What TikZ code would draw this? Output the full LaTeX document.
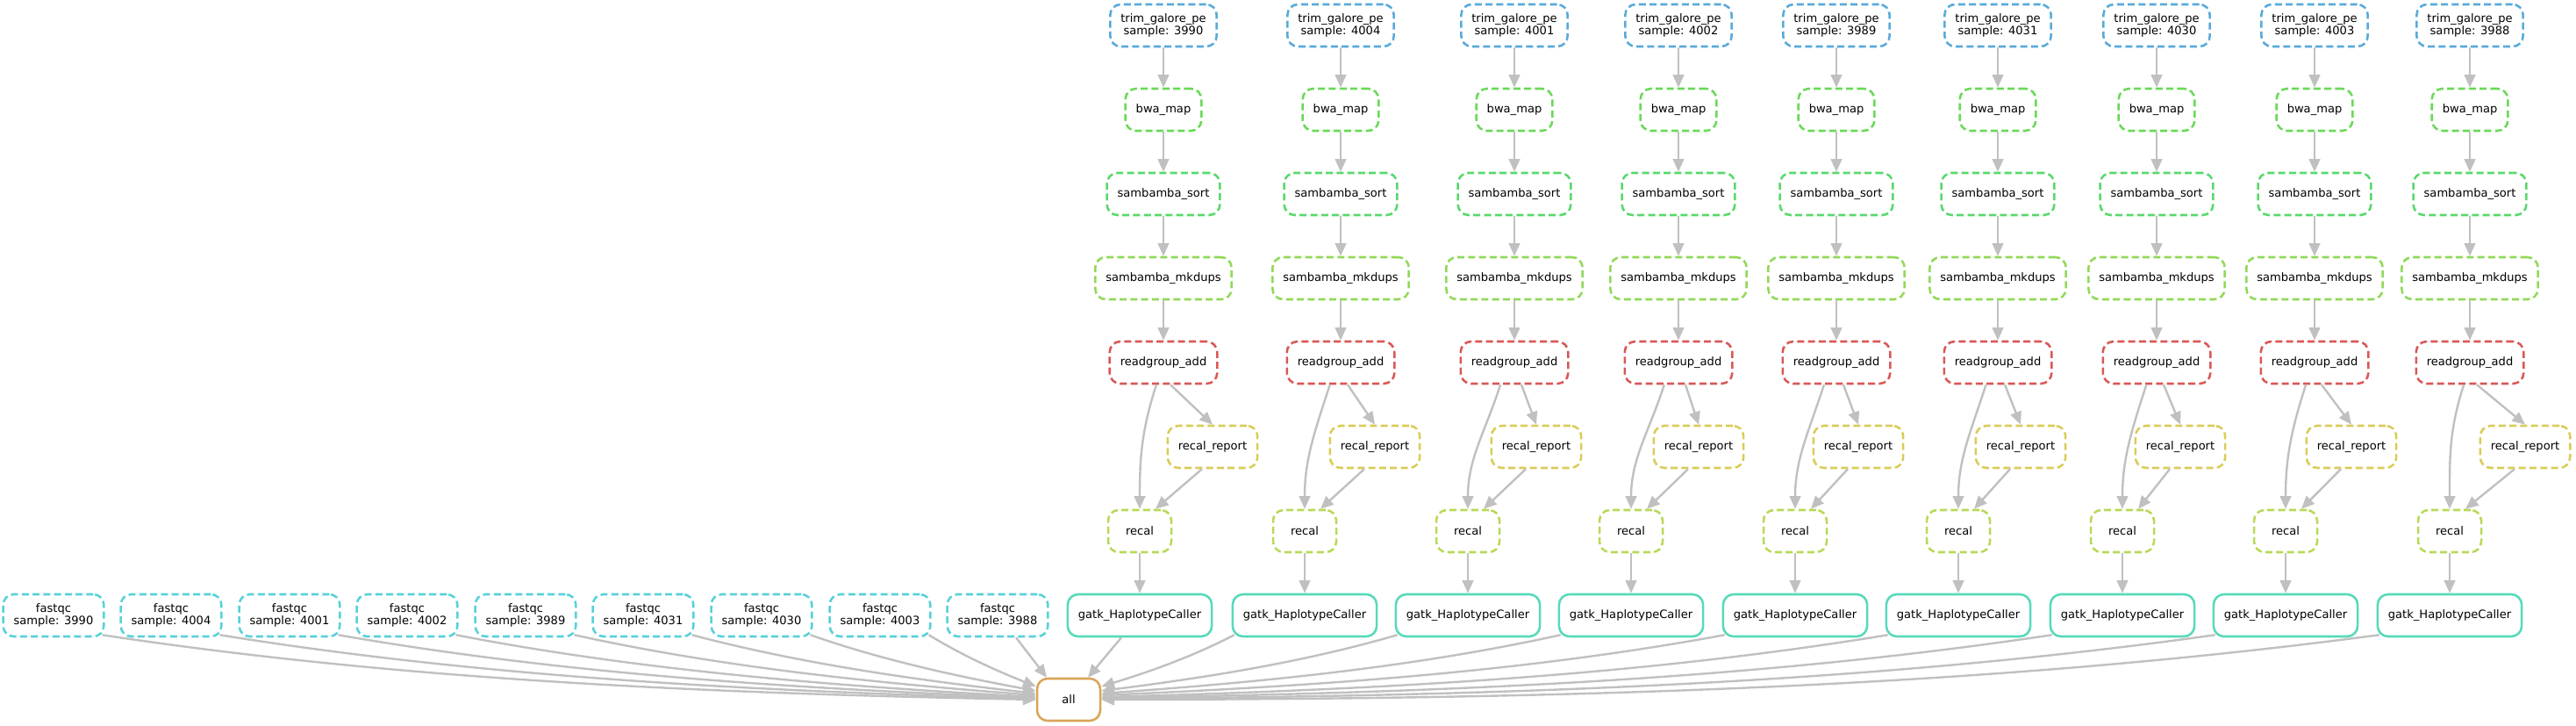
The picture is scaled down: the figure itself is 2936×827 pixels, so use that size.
\documentclass[tikz,border=0pt]{standalone}
\usepackage{fontspec}
\setmainfont{DejaVu Sans}
\usetikzlibrary{arrows.meta,calc}

% rule colours (hue steps, sat 0.6, value 0.85)
\definecolor{rgcol}{RGB}{217,87,87}
\definecolor{allcol}{RGB}{217,165,87}
\definecolor{repcol}{RGB}{217,204,87}
\definecolor{recalcol}{RGB}{183,217,87}
\definecolor{dupcol}{RGB}{144,217,87}
\definecolor{bwacol}{RGB}{105,217,87}
\definecolor{sortcol}{RGB}{87,217,108}
\definecolor{gatkcol}{RGB}{87,217,186}
\definecolor{qccol}{RGB}{87,209,217}
\definecolor{trimcol}{RGB}{87,170,217}
\definecolor{flowcol}{RGB}{192,192,192}

\tikzset{
	job/.style={rounded corners=9pt, line width=1.9pt, minimum height=36pt, minimum width=54pt,
		inner xsep=9pt, inner ysep=2pt, align=center, font=\fontsize{9.8}{10.8}\selectfont},
	pending/.style={job, dash pattern=on 6pt off 3.2pt},
	flow/.style={draw=flowcol, line width=1.8pt, -{Triangle[length=11pt,width=9.5pt]}},
}

\begin{document}
\begin{tikzpicture}[x=0.75pt,y=-0.75pt]
		\useasboundingbox (0,0) rectangle (2936,827);
		\node[job,draw=allcol] (all) at (1218,797) {all};
		% one column per sample
		\foreach \i/\t/\r/\q/\s in {1/1326/1299/1382/3990, 2/1528/1487/1567/4004, 3/1726/1673/1751/4001,
				4/1913/1859/1936/4002, 5/2093/2046/2118/3989, 6/2277/2232/2303/4031,
				7/2458/2419/2485/4030, 8/2638/2605/2680/4003, 9/2815/2792/2878/3988}{
			\node[pending,draw=trimcol] (trim\i) at (\t,29) {trim\_galore\_pe\\sample: \s};
			\node[pending,draw=bwacol] (bwa\i) at (\t,125) {bwa\_map};
			\node[pending,draw=sortcol] (sort\i) at (\t,221) {sambamba\_sort};
			\node[pending,draw=dupcol] (dup\i) at (\t,317) {sambamba\_mkdups};
			\node[pending,draw=rgcol] (rg\i) at (\t,413) {readgroup\_add};
			\node[pending,draw=repcol] (rep\i) at (\q,509) {recal\_report};
			\node[pending,draw=recalcol] (rc\i) at (\r,605) {recal};
			\node[job,draw=gatkcol] (gatk\i) at (\r,701) {gatk\_HaplotypeCaller};
			\pgfmathsetmacro{\d}{0.3*(\r-\t)}
			\draw[flow] (trim\i) -- (bwa\i);
			\draw[flow] (bwa\i) -- (sort\i);
			\draw[flow] (sort\i) -- (dup\i);
			\draw[flow] (dup\i) -- (rg\i);
			\draw[flow] ($(rg\i.south)+(\d,0)$) to[out=-108,in=90] (rc\i.north);
			\draw[flow] ($(rg\i.south)+(8,0)$) -- (rep\i.north);
			\draw[flow] ($(rep\i.south)+(-12,0)$) -- ($(rc\i.north)+(18,0)$);
			\draw[flow] (rc\i) -- (gatk\i);
		}
		\foreach \i/\f/\s in {1/61/3990, 2/195/4004, 3/330/4001, 4/464/4002, 5/599/3989,
				6/733/4031, 7/868/4030, 8/1003/4003, 9/1137/3988}
			\node[pending,draw=qccol] (qc\i) at (\f,701) {fastqc\\sample: \s};
		% everything ends in all
		\foreach \i/\f/\dy in {1/61/0, 2/195/-1, 3/330/-2, 4/464/-3, 5/599/-5, 6/733/-7, 7/868/-10, 8/1003/-15}{
			\pgfmathsetmacro{\k}{0.025*(1218-\f)}
			\coordinate (qs) at ($(qc\i.south east)+(-3,-3)$);
			\coordinate (qe) at ($(all.west)+(0,\dy)$);
			\draw[flow] (qs) .. controls ($(qs)!.33!(qe)+(0,\k)$) and ($(qe)!.33!(qs)+(0,0.6*\k)$) .. (qe);
		}
		\draw[flow] ($(qc9.south)+(21,0)$) -- ($(all.north)+(-25,0)$);
		\draw[flow] ($(gatk1.south)+(-21,0)$) -- ($(all.north)+(22,0)$);
		\foreach \i/\g/\dy in {2/1487/-15, 3/1673/-10, 4/1859/-7, 5/2046/-5, 6/2232/-3, 7/2419/-2, 8/2605/-1, 9/2792/0}{
			\pgfmathsetmacro{\k}{0.025*(\g-1218)}
			\coordinate (gs) at ($(gatk\i.south west)+(3,-3)$);
			\coordinate (ge) at ($(all.east)+(0,\dy)$);
			\draw[flow] (gs) .. controls ($(gs)!.33!(ge)+(0,\k)$) and ($(ge)!.33!(gs)+(0,0.6*\k)$) .. (ge);
		}
	\end{tikzpicture}
\end{document}
